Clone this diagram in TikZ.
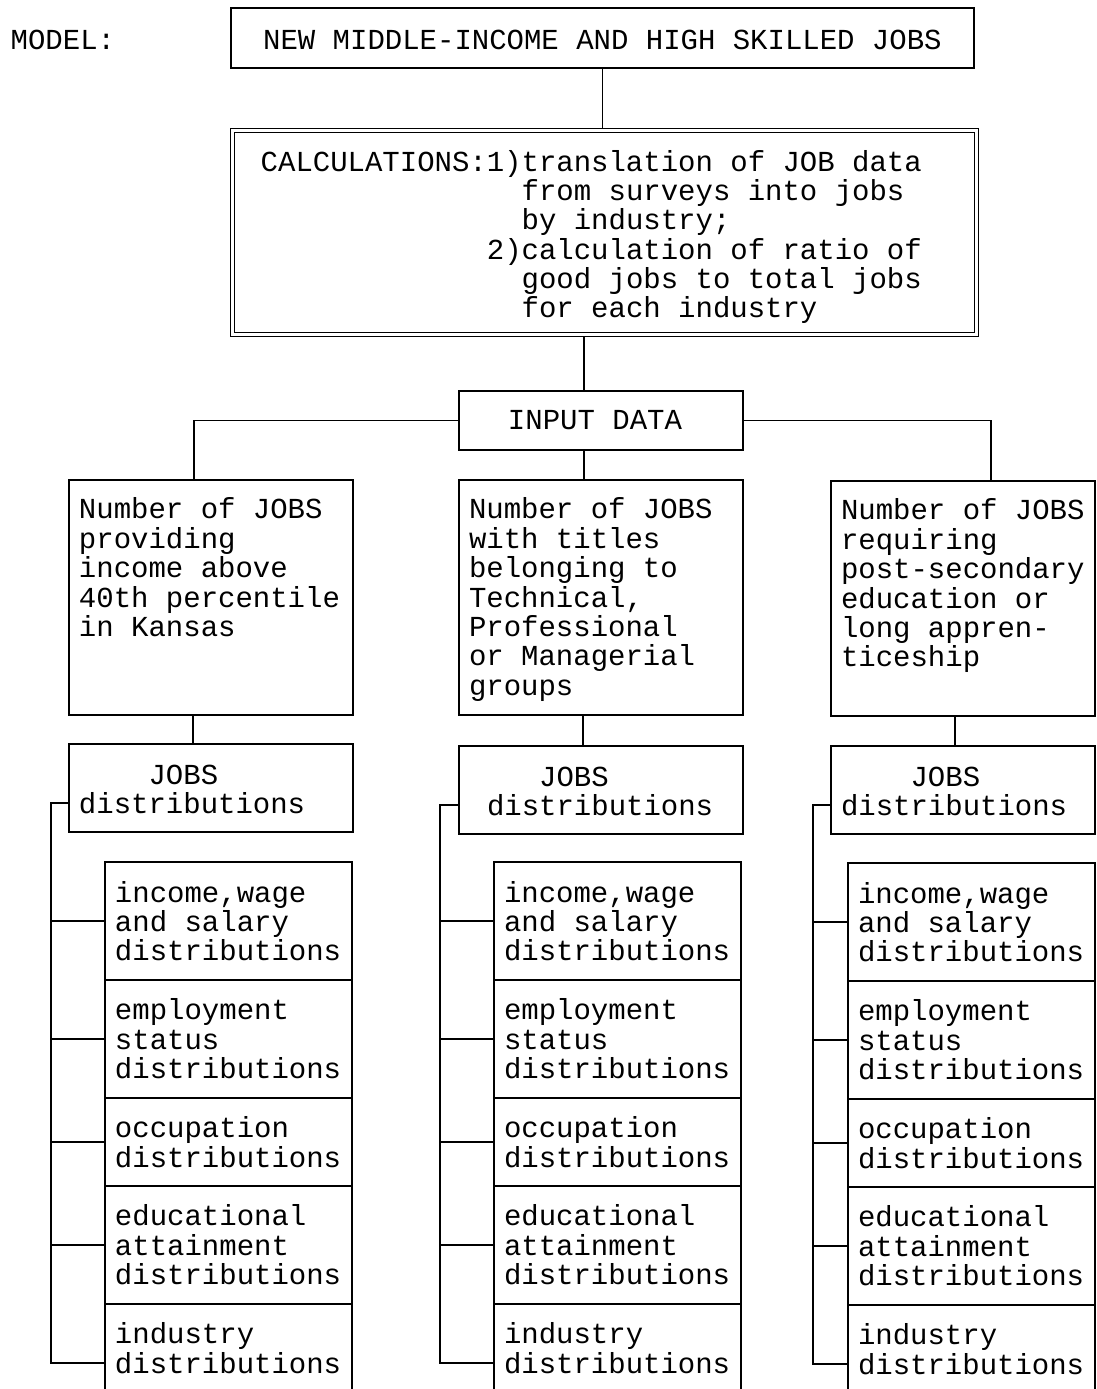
\documentclass[tikz,border=0pt]{standalone}
\usepackage{xcolor}
\usepackage{fontspec}
\newfontfamily\typefont{Liberation Mono}
\usepackage{tikz}
\usetikzlibrary{positioning}
\hyphenpenalty=10000
\exhyphenpenalty=10000
\frenchspacing
\newcommand\calcskip{\hphantom{CALCULATIONS:1)}}

\begin{document}
\begin{tikzpicture}[x=0.02cm,y=-0.02cm,line width=0.8pt,
    font=\typefont\fontsize{16.5pt}{16.7pt}\selectfont,
    execute at begin node={\spaceskip=0.6em\relax\xspaceskip=0.6em\relax},
    box/.style={draw,anchor=north west,inner ysep=0pt,outer sep=0pt,align=left},
    numbox/.style={box,inner xsep=0.2cm,text width=5.28cm,text height=0.78cm,text depth=3.92cm},
    jobsbox/.style={box,inner xsep=0.2cm,text width=5.28cm,text height=0.8cm,text depth=0.96cm},
    distbox/.style={box,inner xsep=0.2cm,text width=4.54cm,text height=0.8cm,text depth=1.56cm},
    shortdist/.style={distbox,text depth=0.96cm}]
\useasboundingbox (0,0) rectangle (1096,1389);
\node[anchor=base west,inner sep=0pt] (model) at (10,50) {MODEL:};
\node[box,align=center,inner xsep=0pt,text width=14.86cm,text height=0.84cm,text depth=0.36cm] (top) at (231,8)
    {NEW MIDDLE-INCOME AND HIGH SKILLED JOBS};
\node[box,double,double distance=1.5pt,outer sep=1.55pt,inner xsep=0.56cm,text width=13.76cm,
    text height=0.82cm,text depth=3.27cm] (calc) at (230,127.5)
    {CALCULATIONS:1)translation of JOB data\\
     \calcskip from surveys into jobs\\
     \calcskip by industry;\\
     \hphantom{CALCULATIONS:}2)calculation of ratio of\\
     \calcskip good jobs to total jobs\\
     \calcskip for each industry};
\node[box,inner xsep=0.98cm,text width=3.72cm,text height=0.78cm,text depth=0.4cm] (input) at (459,391) {INPUT DATA};

\node[numbox] (num1) at (69,480) {Number of JOBS\\providing\\income above\\40th percentile\\in Kansas};
\node[numbox] (num2) at (459,480) {Number of JOBS\\with titles\\belonging to\\Technical,\\Professional\\or Managerial\\groups};
\node[numbox,text width=4.88cm] (num3) at (831,481) {Number of JOBS\\requiring\\post-secondary\\education or\\long appren-\\ticeship};

\node[jobsbox] (jobs1) at (69,744) {\hphantom{dist}JOBS\\distributions};
\node[jobsbox,inner xsep=0.56cm,text width=4.56cm] (jobs2) at (459,746) {\hphantom{dis}JOBS\\distributions};
\node[jobsbox,text width=4.88cm] (jobs3) at (831,746) {\hphantom{dist}JOBS\\distributions};

\node[distbox] (l1) at (105,862) {income,wage\\and salary\\distributions};
\node[distbox,below=0pt of l1] (l2) {employment\\status\\distributions};
\node[shortdist,below=0pt of l2] (l3) {occupation\\distributions};
\node[distbox,below=0pt of l3] (l4) {educational\\attainment\\distributions};
\node[distbox,below=0pt of l4] (l5) {industry\\distributions};

\node[distbox] (m1) at (494,862) {income,wage\\and salary\\distributions};
\node[distbox,below=0pt of m1] (m2) {employment\\status\\distributions};
\node[shortdist,below=0pt of m2] (m3) {occupation\\distributions};
\node[distbox,below=0pt of m3] (m4) {educational\\attainment\\distributions};
\node[distbox,below=0pt of m4] (m5) {industry\\distributions};

\node[distbox] (r1) at (848,863) {income,wage\\and salary\\distributions};
\node[distbox,below=0pt of r1] (r2) {employment\\status\\distributions};
\node[shortdist,below=0pt of r2] (r3) {occupation\\distributions};
\node[distbox,below=0pt of r3] (r4) {educational\\attainment\\distributions};
\node[distbox,below=0pt of r4] (r5) {industry\\distributions};

\coordinate (lbar) at (51,0);
\coordinate (mbar) at (440,0);
\coordinate (rbar) at (813,0);

\draw (top.south) -- (top.south |- calc.north);
\draw ([xshift=2.5cm]input.north west) -- ([xshift=2.5cm]input.north west |- calc.south);
\draw ([xshift=2.5cm]input.south west) -- ([xshift=2.5cm]num2.north west);
\draw (input.west) -| ([xshift=2.5cm]num1.north west);
\draw (input.east) -| ([xshift=3.2cm]num3.north west);
\draw ([xshift=2.48cm]num1.south west) -- ([xshift=2.48cm]jobs1.north west);
\draw ([xshift=2.48cm]num2.south west) -- ([xshift=2.48cm]jobs2.north west);
\draw ([xshift=2.48cm]num3.south west) -- ([xshift=2.48cm]jobs3.north west);

\draw ([yshift=-0.3cm]jobs1.west) -| (lbar |- l5.west) -- (l5.west);
\draw (l1.west) -- (lbar |- l1.west);
\draw (l2.west) -- (lbar |- l2.west);
\draw (l3.west) -- (lbar |- l3.west);
\draw (l4.west) -- (lbar |- l4.west);
\draw ([yshift=-0.3cm]jobs2.west) -| (mbar |- m5.west) -- (m5.west);
\draw (m1.west) -- (mbar |- m1.west);
\draw (m2.west) -- (mbar |- m2.west);
\draw (m3.west) -- (mbar |- m3.west);
\draw (m4.west) -- (mbar |- m4.west);
\draw ([yshift=-0.3cm]jobs3.west) -| (rbar |- r5.west) -- (r5.west);
\draw (r1.west) -- (rbar |- r1.west);
\draw (r2.west) -- (rbar |- r2.west);
\draw (r3.west) -- (rbar |- r3.west);
\draw (r4.west) -- (rbar |- r4.west);
\end{tikzpicture}
\end{document}
